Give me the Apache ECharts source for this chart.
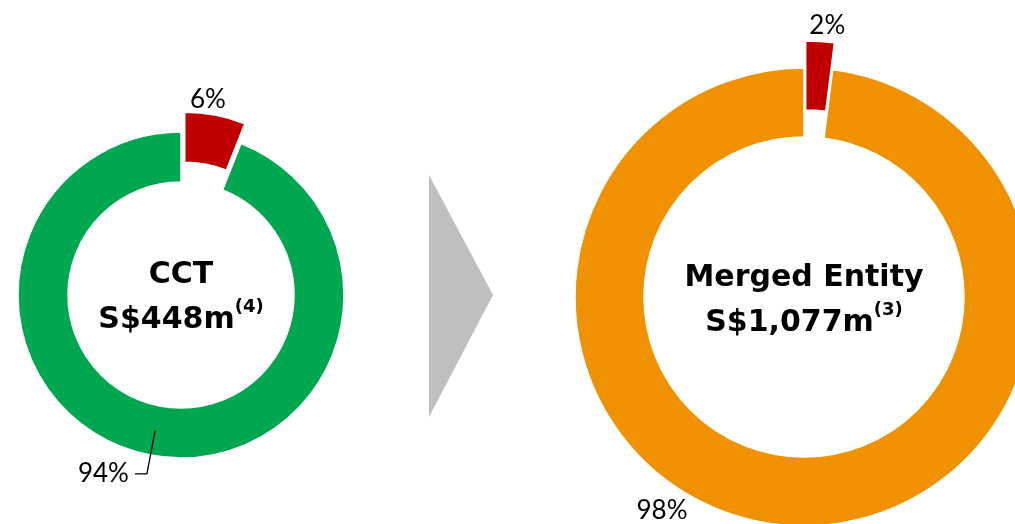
<!DOCTYPE html>
<html>
<head>
<meta charset="utf-8">
<script src="https://cdn.jsdelivr.net/npm/echarts@6/dist/echarts.min.js"></script>
<style>
  html, body { margin: 0; padding: 0; background: #fff; }
  #main { width: 1015px; height: 524px; }
</style>
</head>
<body>
<div id="main"></div>
<script>
// shares of each entity (%), red slice first, clockwise from 12 o'clock
const cctNames = ['Other', 'Core'];
const cctValues = [6, 94];
const mergedNames = ['Other', 'Core'];
const mergedValues = [2, 98];
const cctTitle = ['CCT', 'S$448m', '(4)'];
const mergedTitle = ['Merged Entity', 'S$1,077m', '(3)'];

const RED = '#C00000';
const GREEN = '#00A650';
const ORANGE = '#EF9100';
const labelFont = 'Lato';
const titleFont = 'DejaVu Sans';

const chart = echarts.init(document.getElementById('main'));

function pieData(names, values, mainColor) {
  return values.map(function (v, i) {
    return {
      name: names[i],
      value: v,
      selected: i === 0,
      itemStyle: { color: i === 0 ? RED : mainColor }
    };
  });
}

// transparent overlay so the leader line starts inside the ring
function overlayData(names, values, showIdx) {
  return values.map(function (v, i) {
    return {
      name: names[i],
      value: v,
      label: { show: i === showIdx },
      labelLine: { show: i === showIdx }
    };
  });
}

const pctLabel = {
  formatter: '{c}%',
  color: '#000',
  fontFamily: labelFont,
  fontSize: 26
};

const titleRich = {
  a: { fontFamily: titleFont, fontWeight: 'bold', fontSize: 30, lineHeight: 45, fill: '#000' },
  s: { fontFamily: titleFont, fontWeight: 'bold', fontSize: 18, verticalAlign: 'top', fill: '#000' }
};

const option = {
  animation: false,
  graphic: [
    {
      type: 'polygon',
      shape: { points: [[429, 175], [493, 295], [429, 417]] },
      style: { fill: '#BFBFBF' }
    },
    {
      type: 'text',
      x: 181, y: 298,
      style: {
        text: '{a|' + cctTitle[0] + '}\n{a|' + cctTitle[1] + '}{s|' + cctTitle[2] + '}',
        align: 'center',
        verticalAlign: 'middle',
        rich: titleRich
      }
    },
    {
      type: 'text',
      x: 804, y: 301,
      style: {
        text: '{a|' + mergedTitle[0] + '}\n{a|' + mergedTitle[1] + '}{s|' + mergedTitle[2] + '}',
        align: 'center',
        verticalAlign: 'middle',
        rich: titleRich
      }
    }
  ],
  series: [
    {
      type: 'pie',
      center: [181, 295],
      radius: [113, 163],
      startAngle: 90,
      clockwise: true,
      selectedMode: 'single',
      selectedOffset: 20,
      avoidLabelOverlap: false,
      silent: true,
      itemStyle: { borderColor: '#fff', borderWidth: 1.5 },
      label: Object.assign({ position: 'outside' }, pctLabel),
      labelLine: { show: false, length: 4, length2: 0 },
      labelLayout: function (p) {
        if (p.dataIndex === 0) { return { dx: -31, dy: -12 }; }
        return {};
      },
      data: pieData(cctNames, cctValues, GREEN).map(function (d, i) {
        if (i === 1) { d.label = { show: false }; }
        return d;
      })
    },
    {
      type: 'pie',
      z: 5,
      center: [181, 295],
      radius: [0, 138],
      startAngle: 90,
      clockwise: true,
      silent: true,
      avoidLabelOverlap: false,
      itemStyle: { color: 'rgba(0,0,0,0)' },
      label: Object.assign({ position: 'outside', distanceToLabelLine: 6 }, pctLabel),
      labelLine: { length: 44, length2: 12, lineStyle: { color: '#000', width: 1.3 } },
      data: overlayData(cctNames, cctValues, 1)
    },
    {
      type: 'pie',
      center: [804, 297],
      radius: [160, 229],
      startAngle: 90,
      clockwise: true,
      selectedMode: 'single',
      selectedOffset: 27,
      avoidLabelOverlap: false,
      silent: true,
      itemStyle: { borderColor: '#fff', borderWidth: 1.5 },
      label: Object.assign({ position: 'outside' }, pctLabel),
      labelLine: { show: false, length: 4, length2: 0 },
      labelLayout: function (p) {
        if (p.dataIndex === 1) { return { x: 662, y: 511, align: 'center' }; }
        return { dx: -16, dy: -12 };
      },
      data: pieData(mergedNames, mergedValues, ORANGE)
    }
  ]
};

chart.setOption(option);
</script>
</body>
</html>
